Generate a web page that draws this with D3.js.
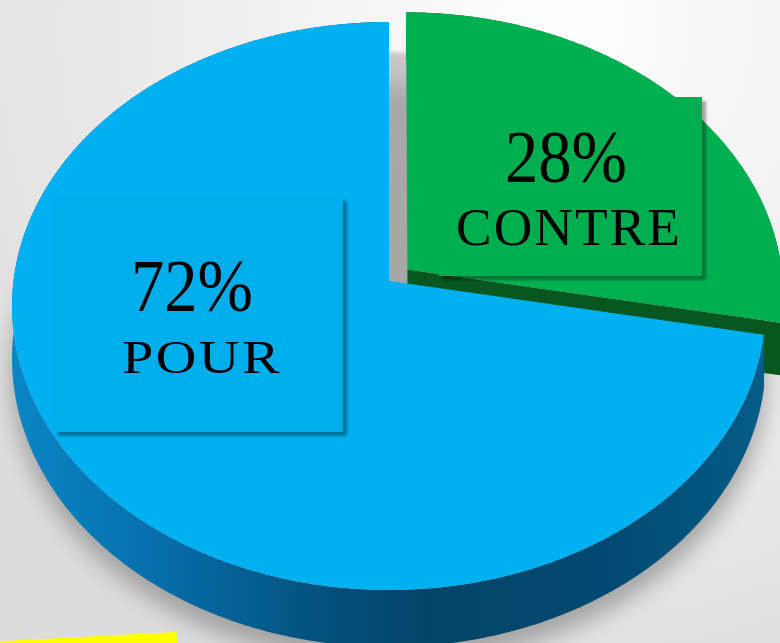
<!DOCTYPE html>
<html>
<head>
<meta charset="utf-8">
<script src="https://cdn.jsdelivr.net/npm/d3@7"></script>
<style>
  html, body { margin: 0; padding: 0; overflow: hidden; }
  svg { display: block; }
</style>
</head>
<body>
<div class="chart"></div>
<script>
// data
const categories = ["CONTRE", "POUR"];
const values = [28, 72];
const pctLabels = ["28%", "72%"];

const W = 780, H = 643;

// perspective disc: apex, radii, tilt
const cx = 389, cy = 281, A = 375.5, B = 281.8, k = 0.088;
const depth = 52;

let colors = {
  "POUR":   {top: "#00b0f0", box: "#00aeeb", side: "url(#blueSide)", cut: "#0a6f9e"},
  "CONTRE": {top: "#00b050", box: "#00ae4f", side: "#0b6a2c", cut: "#085620"}
};
let explode = {"POUR": 0, "CONTRE": 0.064};
// label box layout
let boxes = {
  "POUR":   {x: 54, y: 197, w: 289, h: 235, nx: 192, ny: 311, cx: 202, cy: 373, cs: 46, cw: 160},
  "CONTRE": {x: 439, y: 97, w: 263, h: 179, nx: 566, ny: 182, cx: 569, cy: 245, cs: 52, cw: 226}
};

function proj(u, w, drop){
  let f = 1 / (1 - k * w);
  return [cx + A * u * f, cy + B * w * f + (drop ? depth * f : 0)];
}
function pt(a, off, drop){
  return proj(off[0] + Math.sin(a), off[1] - Math.cos(a), drop);
}
function rim(a0, a1, off, drop){
  let n = Math.max(4, Math.ceil((a1 - a0) / 0.01)), p = [];
  for(let i = 0; i <= n; i++) p.push(pt(a0 + (a1 - a0) * i / n, off, drop));
  return p;
}
let line = d3.line();

let svg = d3.select(".chart").append("svg")
  .attr("width", W).attr("height", H);

let defs = svg.append("defs");
let bg = defs.append("radialGradient").attr("id", "bg")
  .attr("gradientUnits", "userSpaceOnUse")
  .attr("cx", 560).attr("cy", 30).attr("r", 720);
bg.append("stop").attr("offset", "0%").attr("stop-color", "#ffffff");
bg.append("stop").attr("offset", "55%").attr("stop-color", "#ececec");
bg.append("stop").attr("offset", "100%").attr("stop-color", "#dcdcdc");

let bs = defs.append("linearGradient").attr("id", "blueSide")
  .attr("gradientUnits", "userSpaceOnUse")
  .attr("x1", 10).attr("x2", 770).attr("y1", 0).attr("y2", 0);
[["0%", "#0a86c6"], ["18%", "#0670ad"], ["40%", "#03527f"], ["55%", "#024467"],
 ["80%", "#024a72"], ["100%", "#045d89"]].forEach(function(s){
  bs.append("stop").attr("offset", s[0]).attr("stop-color", s[1]);
});

let blur = defs.append("filter").attr("id", "halo")
  .attr("x", "-20%").attr("y", "-20%").attr("width", "140%").attr("height", "140%");
blur.append("feGaussianBlur").attr("stdDeviation", 11);

let soft = defs.append("filter").attr("id", "soft")
  .attr("x", "-20%").attr("y", "-20%").attr("width", "140%").attr("height", "140%");
soft.append("feGaussianBlur").attr("stdDeviation", 2);

let boxShadow = defs.append("filter").attr("id", "boxShadow")
  .attr("x", "-10%").attr("y", "-10%").attr("width", "130%").attr("height", "130%");
boxShadow.append("feDropShadow").attr("dx", 4).attr("dy", 4)
  .attr("stdDeviation", 1.5).attr("flood-color", "#000").attr("flood-opacity", 0.35);

svg.append("rect").attr("width", W).attr("height", H).attr("fill", "url(#bg)");

// soft shadow under the disc
svg.append("path")
  .attr("d", line(rim(0, 2 * Math.PI, [0, 0.02], true)) + "Z")
  .attr("transform", "translate(0,10)")
  .attr("fill", "#7a7a7a").attr("opacity", 0.6)
  .attr("filter", "url(#halo)");

let pie = d3.pie().sort(null).value(function(d){ return d; });
let arcs = pie(values).map(function(d, i){
  let c = categories[i];
  let mid = (d.startAngle + d.endAngle) / 2;
  d.cat = c;
  d.off = [explode[c] * Math.sin(mid), -explode[c] * Math.cos(mid)];
  return d;
});

// exploded slice first, then the front slice
arcs.forEach(function(d){
  let g = svg.append("g");
  let c = colors[d.cat];
  let o = proj(d.off[0], d.off[1], false), ob = proj(d.off[0], d.off[1], true);
  let top = rim(d.startAngle, d.endAngle, d.off, false);
  let bot = rim(d.startAngle, d.endAngle, d.off, true).reverse();
  if(explode[d.cat] > 0){
    // cast shadow seen in the gap
    g.append("path")
      .attr("d", line([o].concat(top)) + "Z")
      .attr("transform", "translate(-19,40)")
      .attr("fill", "#a9a5a5").attr("opacity", 0.6)
      .attr("filter", "url(#soft)");
  }
  // outer side
  g.append("path").attr("d", line(top.concat(bot)) + "Z").attr("fill", c.side);
  // cut face at end angle (faces the viewer)
  let e = pt(d.endAngle, d.off, false), eb = pt(d.endAngle, d.off, true);
  if(d.endAngle < Math.PI){
    g.append("path").attr("d", line([o, e, eb, ob]) + "Z").attr("fill", c.cut);
  }
  // top face
  g.append("path")
    .attr("d", line([o].concat(top)) + "Z")
    .attr("fill", c.top);
});

// label boxes
arcs.forEach(function(d, i){
  let b = boxes[d.cat];
  svg.append("rect")
    .attr("x", b.x).attr("y", b.y).attr("width", b.w).attr("height", b.h)
    .attr("fill", colors[d.cat].box)
    .attr("filter", "url(#boxShadow)");
  svg.append("text")
    .attr("x", b.nx).attr("y", b.ny)
    .attr("text-anchor", "middle")
    .attr("font-family", "'Liberation Serif', 'DejaVu Serif', serif")
    .attr("font-size", 73)
    .attr("textLength", 122).attr("lengthAdjust", "spacingAndGlyphs")
    .attr("fill", "#000")
    .text(pctLabels[i]);
  svg.append("text")
    .attr("x", b.cx).attr("y", b.cy)
    .attr("text-anchor", "middle")
    .attr("font-family", "'Liberation Serif', 'DejaVu Serif', serif")
    .attr("font-size", b.cs)
    .attr("letter-spacing", 2)
    .attr("textLength", b.cw).attr("lengthAdjust", "spacingAndGlyphs")
    .attr("fill", "#000")
    .text(d.cat);
});

// yellow shape peeking in at the bottom left
svg.append("rect")
  .attr("x", -20).attr("y", 632).attr("width", 196).attr("height", 60)
  .attr("transform", "rotate(-3 176 623)")
  .attr("fill", "#ffff00");
</script>
</body>
</html>
